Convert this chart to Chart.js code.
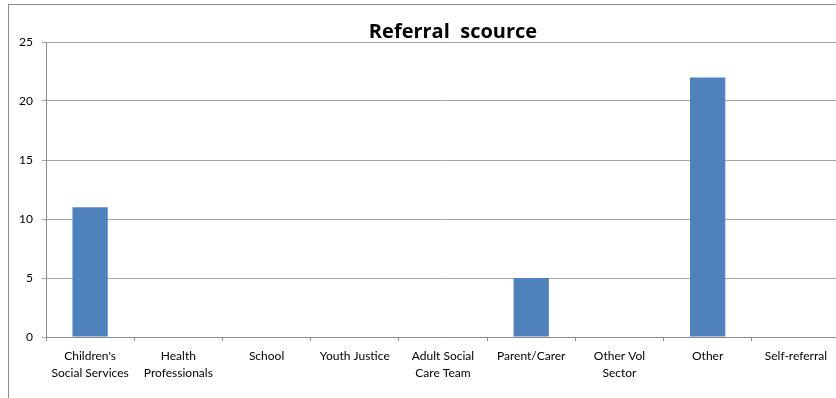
<!DOCTYPE html>
<html>
<head>
<meta charset="utf-8">
<script src="https://cdn.jsdelivr.net/npm/chart.js@4/dist/chart.umd.min.js"></script>
<style>
  html, body { margin: 0; padding: 0; background: #fff; overflow: hidden; width: 836px; height: 398px; }
  #frame { position: absolute; left: 8px; top: 4px; width: 900px; height: 500px; border: 1px solid #8c8c8c; }
  #c { position: absolute; left: 0; top: 0; }
</style>
</head>
<body>
<div id="frame"></div>
<canvas id="c" width="850" height="398"></canvas>
<script>
// Referral sources and number of referrals from each
const categories = [
  ["Children's", "Social Services"],
  ["Health", "Professionals"],
  "School",
  "Youth Justice",
  ["Adult Social", "Care Team"],
  "Parent/Carer",
  ["Other Vol", "Sector"],
  "Other",
  "Self-referral"
];
const referrals = [11, 0, 0, 0, 0, 5, 0, 22, 0];
const yTicks = [0, 5, 10, 15, 20, 25];
const chartTitle = "Referral  scource";

const FONT = "Lato, 'Open Sans', sans-serif";

// Title drawn above the plot area
const titlePlugin = {
  id: 'sheetTitle',
  afterDraw(chart) {
    const ctx = chart.ctx;
    ctx.save();
    ctx.font = "bold 20px 'Open Sans', sans-serif";
    ctx.fillStyle = "#000";
    ctx.textAlign = "center";
    ctx.textBaseline = "alphabetic";
    ctx.fillText(chartTitle, 453, 38);
    ctx.restore();
  }
};

new Chart(document.getElementById('c'), {
  type: 'bar',
  data: {
    labels: categories,
    datasets: [{
      data: referrals,
      backgroundColor: '#4f81bd',
      borderWidth: 0,
      categoryPercentage: 1,
      barPercentage: 0.4
    }]
  },
  options: {
    responsive: false,
    animation: false,
    devicePixelRatio: 1,
    layout: { padding: { left: 0, right: 10, top: 42, bottom: 0 } },
    plugins: {
      legend: { display: false },
      tooltip: { enabled: false },
      title: { display: false }
    },
    scales: {
      x: {
        grid: {
          display: true,
          drawOnChartArea: false,
          drawTicks: true,
          tickLength: 4,
          color: '#8c8c8c',
          offset: true
        },
        border: { display: true, color: '#8c8c8c', width: 1 },
        ticks: {
          color: '#000',
          font: { family: FONT, size: 12, lineHeight: 1.45 },
          padding: 6,
          maxRotation: 0,
          autoSkip: false
        },
        afterFit(scale) { scale.height = 61; }
      },
      y: {
        min: 0,
        max: 25,
        afterBuildTicks(scale) { scale.ticks = yTicks.map(v => ({ value: v })); },
        grid: {
          color: '#a6a6a6',
          drawTicks: true,
          tickLength: 4
        },
        border: { display: true, color: '#8c8c8c', width: 1 },
        ticks: {
          color: '#000',
          font: { family: FONT, size: 12 },
          padding: 9
        },
        afterFit(scale) { scale.width = 46; }
      }
    }
  },
  plugins: [titlePlugin]
});
</script>
</body>
</html>
